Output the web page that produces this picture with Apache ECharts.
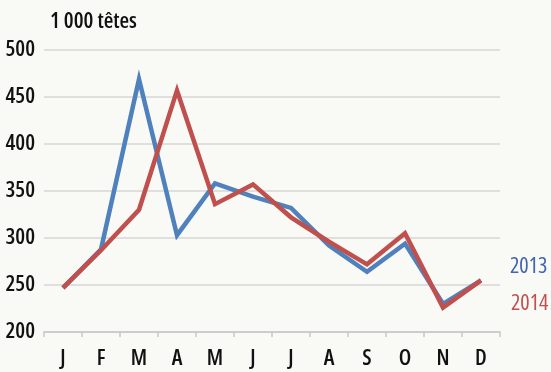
<!DOCTYPE html>
<html>
<head>
<meta charset="utf-8">
<script src="https://cdn.jsdelivr.net/npm/echarts@6/dist/echarts.min.js"></script>
<style>
  html, body { margin: 0; padding: 0; background: #f9f9f6; }
  #chart { width: 551px; height: 372px; }
</style>
</head>
<body>
<div id="chart"></div>
<script>
// Monthly figures, thousand head
const months = ['J', 'F', 'M', 'A', 'M', 'J', 'J', 'A', 'S', 'O', 'N', 'D'];
const values2013 = [247, 288, 469, 303, 358, 344, 332, 292, 264, 294, 230, 255];
const values2014 = [247, 287, 330, 457, 336, 357, 322, 296, 272, 305, 226, 255];
const yTicks = { min: 200, max: 500, step: 50 };
const unitLabel = '1 000 têtes';

const FONT = '"Open Sans", "Roboto", sans-serif';
// narrow width goes into the canvas font shorthand through the style slot
const STRETCH = 'extra-condensed';
const BLUE = '#4f81bd';
const RED = '#c0504d';

const txt = (size, color, weight) => ({
  fontFamily: FONT, fontSize: size, fontStyle: STRETCH, fontWeight: weight || 600, color: color || '#111'
});

const chart = echarts.init(document.getElementById('chart'), null, { renderer: 'canvas' });
chart.setOption({
  backgroundColor: '#f9f9f6',
  animation: false,
  grid: { left: 44, right: 51, top: 50, bottom: 40, outerBoundsMode: 'none', containLabel: false },
  title: {
    text: unitLabel,
    left: 45, top: 6,
    textStyle: txt(22)
  },
  xAxis: {
    type: 'category',
    data: months,
    boundaryGap: true,
    axisLine: { lineStyle: { color: '#c8c8c8', width: 1.5 } },
    axisTick: { show: true, length: 5, lineStyle: { color: '#c8c8c8', width: 1.5 } },
    axisLabel: Object.assign(txt(22), { margin: 16 })
  },
  yAxis: {
    type: 'value',
    min: yTicks.min, max: yTicks.max, interval: yTicks.step,
    axisLine: { show: false },
    axisTick: { show: false },
    splitLine: { lineStyle: { color: '#d6d6d6', width: 1.5 } },
    axisLabel: Object.assign(txt(22), { margin: 9 })
  },
  series: [
    {
      name: '2013', type: 'line', data: values2013,
      symbol: 'none', lineStyle: { color: BLUE, width: 4.5, join: 'miter' },
      endLabel: Object.assign(txt(22, '#3f64b2', 500), { show: true, formatter: '{a}', offset: [21, -14] })
    },
    {
      name: '2014', type: 'line', data: values2014,
      symbol: 'none', lineStyle: { color: RED, width: 4.5, join: 'miter' },
      endLabel: Object.assign(txt(22, '#c0504d', 500), { show: true, formatter: '{a}', offset: [22, 23] })
    }
  ]
});
</script>
</body>
</html>
